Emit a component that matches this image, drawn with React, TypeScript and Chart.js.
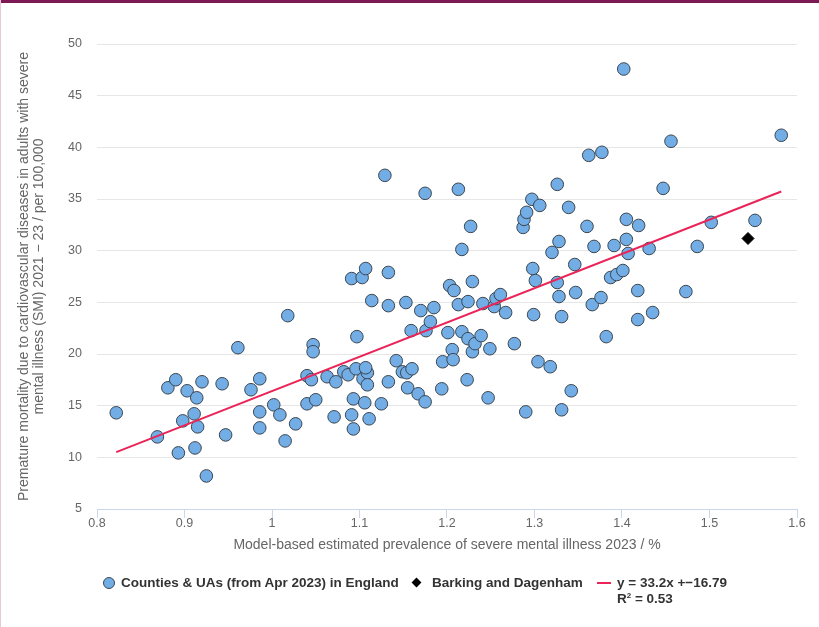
import React, { useEffect, useRef } from "react";
import { Chart, registerables } from "chart.js";

Chart.register(...registerables);

// Counties & UAs (from Apr 2023) in England
const countyX = [
  0.822, 0.869, 0.881, 0.890, 0.893, 0.898, 0.903, 0.911, 0.914, 0.912,
  0.915, 0.920, 0.925, 0.943, 0.947, 0.961, 0.976, 0.986, 0.986, 0.986,
  1.002, 1.009, 1.015, 1.018, 1.027, 1.040, 1.045, 1.040, 1.050, 1.047,
  1.047, 1.063, 1.073, 1.071, 1.082, 1.087, 1.091, 1.093, 1.091, 1.093,
  1.096, 1.097, 1.103, 1.104, 1.107, 1.106, 1.109, 1.107, 1.109, 1.111,
  1.114, 1.125, 1.129, 1.133, 1.133, 1.133, 1.142, 1.149, 1.153, 1.155,
  1.154, 1.160, 1.159, 1.167, 1.170, 1.175, 1.175, 1.176, 1.181, 1.185,
  1.194, 1.195, 1.201, 1.203, 1.206, 1.207, 1.208, 1.213, 1.213, 1.217,
  1.217, 1.223, 1.224, 1.224, 1.227, 1.229, 1.229, 1.232, 1.239, 1.241,
  1.247, 1.249, 1.254, 1.256, 1.261, 1.267, 1.277, 1.287, 1.288, 1.291,
  1.290, 1.297, 1.298, 1.299, 1.301, 1.306, 1.304, 1.318, 1.320, 1.326,
  1.326, 1.328, 1.328, 1.331, 1.331, 1.339, 1.342, 1.346, 1.347, 1.360,
  1.362, 1.366, 1.368, 1.376, 1.377, 1.382, 1.387, 1.391, 1.394, 1.402,
  1.401, 1.405, 1.405, 1.407, 1.418, 1.419, 1.418, 1.431, 1.435, 1.447,
  1.456, 1.473, 1.486, 1.502, 1.552, 1.582,
];
const countyY = [
  14.31, 11.98, 16.73, 17.51, 10.43, 13.53, 16.44, 14.21, 15.76, 10.91,
  12.95, 17.31, 8.20, 17.12, 12.17, 20.61, 16.54, 17.60, 14.40, 12.85,
  15.08, 14.11, 11.59, 23.71, 13.24, 17.90, 17.51, 15.18, 15.57, 20.90,
  20.22, 17.80, 17.31, 13.92, 18.28, 17.99, 14.11, 12.75, 27.30, 15.66,
  18.57, 21.68, 27.40, 17.60, 28.27, 15.28, 18.19, 18.67, 17.02, 13.73,
  25.17, 15.18, 37.29, 27.89, 24.68, 17.31, 19.35, 18.28, 24.98, 16.73,
  18.19, 18.57, 22.26, 16.15, 24.20, 35.55, 15.37, 22.26, 23.13, 24.49,
  16.63, 19.25, 22.07, 26.62, 20.42, 19.45, 26.14, 35.94, 24.78, 30.12,
  22.16, 17.51, 25.07, 21.48, 32.35, 27.01, 20.22, 21.00, 21.78, 24.88,
  15.76, 20.51, 24.59, 25.36, 25.75, 24.01, 21.00, 32.25, 33.03, 33.71,
  14.40, 34.97, 28.27, 23.81, 27.11, 34.38, 19.25, 18.77, 29.83, 36.42,
  26.92, 30.89, 25.56, 23.62, 14.60, 34.19, 16.44, 28.66, 25.95, 32.35,
  39.23, 24.78, 30.41, 25.46, 39.52, 21.68, 27.40, 30.50, 27.69, 47.58,
  28.08, 33.03, 31.09, 29.73, 26.14, 32.44, 23.33, 30.21, 24.01, 36.03,
  40.59, 26.04, 30.41, 32.74, 32.93, 41.17,
];

// Barking and Dagenham
const barkingX = [1.544];
const barkingY = [31.18];

// Trend line y = 33.2x + -16.79 (end points)
const trendX = [0.822, 1.582];
const trendY = [10.5, 35.73];

const xTickValues = [0.8, 0.9, 1, 1.1, 1.2, 1.3, 1.4, 1.5, 1.6];
const yTickValues = [5, 10, 15, 20, 25, 30, 35, 40, 45, 50];

const seriesNames = [
  "Counties & UAs (from Apr 2023) in England",
  "Barking and Dagenham",
  "y = 33.2x +\u221216.79",
];
const r2Label = "0.53";

const xTitle = "Model-based estimated prevalence of severe mental illness 2023 / %";
const yTitle = [
  "Premature mortality due to cardiovascular diseases in adults with severe",
  "mental illness (SMI) 2021 \u2212 23 / per 100,000",
];

const FONT = '"Liberation Sans", Arial, sans-serif';

export default function App() {
  const canvasRef = useRef<HTMLCanvasElement | null>(null);

  useEffect(() => {
    if (!canvasRef.current) return;
    const countyPts = countyX.map((x, i) => ({ x, y: countyY[i] }));
    const barkingPts = barkingX.map((x, i) => ({ x, y: barkingY[i] }));
    const trendPts = trendX.map((x, i) => ({ x, y: trendY[i] }));

    const chart = new Chart(canvasRef.current, {
      type: "scatter",
      data: {
        datasets: [
          {
            type: "line",
            label: seriesNames[2],
            data: trendPts,
            borderColor: "#ea2458",
            borderWidth: 2,
            pointRadius: 0,
            fill: false,
            order: 1,
          },
          {
            label: seriesNames[1],
            data: barkingPts,
            pointStyle: "rectRot",
            pointRadius: 6,
            backgroundColor: "#000000",
            borderColor: "#000000",
            borderWidth: 1,
            order: 0,
          },
          {
            label: seriesNames[0],
            data: countyPts,
            pointStyle: "circle",
            pointRadius: 6.3,
            backgroundColor: "#72ade6",
            borderColor: "#3b4650",
            borderWidth: 1,
            order: 2,
          },
        ],
      },
      options: {
        animation: false,
        responsive: false,
        layout: { padding: { left: 0, right: 22, top: 44, bottom: 68 } },
        plugins: {
          legend: { display: false },
          tooltip: { enabled: false },
        },
        scales: {
          x: {
            type: "linear",
            min: 0.8,
            max: 1.6,
            afterFit: (s: any) => {
              s.height = 50;
            },
            afterBuildTicks: (s: any) => {
              s.ticks = xTickValues.map((v) => ({ value: v }));
            },
            ticks: {
              color: "#666666",
              font: { family: FONT, size: 12.5 },
              padding: -2,
              maxRotation: 0,
              callback: (v: any) => String(Math.round(Number(v) * 10) / 10),
            },
            grid: {
              drawOnChartArea: false,
              drawTicks: true,
              tickLength: 9,
              color: "#ccd6eb",
              lineWidth: 1,
            },
            border: { display: true, color: "#ccd6eb", width: 1 },
            title: {
              display: true,
              text: xTitle,
              color: "#666666",
              font: { family: FONT, size: 14, lineHeight: 1.15 },
              padding: { top: 0, bottom: 6 },
            },
          },
          y: {
            type: "linear",
            min: 5,
            max: 50,
            afterFit: (s: any) => {
              s.width = 97;
            },
            afterBuildTicks: (s: any) => {
              s.ticks = yTickValues.map((v) => ({ value: v }));
            },
            ticks: {
              color: "#666666",
              font: { family: FONT, size: 12.5 },
              padding: 15,
            },
            grid: {
              color: (ctx: any) => (ctx.tick && ctx.tick.value === 5 ? "rgba(0,0,0,0)" : "#e6e6e6"),
              drawTicks: false,
              lineWidth: 1,
            },
            border: { display: false },
            title: {
              display: true,
              text: yTitle,
              color: "#666666",
              font: { family: FONT, size: 14, lineHeight: 1.1 },
              padding: { top: 16, bottom: 0 },
            },
          },
        },
      },
    } as any);

    return () => chart.destroy();
  }, []);

  const legendText: React.CSSProperties = {
    position: "absolute",
    top: 575,
    fontFamily: FONT,
    fontWeight: "bold",
    fontSize: 13.5,
    lineHeight: "16px",
    color: "#333333",
    whiteSpace: "nowrap",
  };

  return (
    <div
      style={{
        position: "fixed",
        left: 0,
        top: 0,
        width: 819,
        height: 627,
        background: "#ffffff",
        overflow: "hidden",
      }}
    >
      <canvas ref={canvasRef} width={819} height={627} style={{ position: "absolute", left: 0, top: 0 }} />
      <div style={{ position: "absolute", left: 0, top: 0, width: 819, height: 3, background: "#7d1a56" }} />
      <div style={{ position: "absolute", left: 0, top: 0, width: 1, height: 627, background: "#e9c9d9" }} />
      {/* legend */}
      <div
        style={{
          position: "absolute",
          left: 103,
          top: 577,
          width: 10,
          height: 10,
          borderRadius: "50%",
          background: "#72ade6",
          border: "1px solid #3b4650",
        }}
      />
      <div style={{ ...legendText, left: 121 }}>{seriesNames[0]}</div>
      <div
        style={{
          position: "absolute",
          left: 413,
          top: 579,
          width: 7,
          height: 7,
          background: "#000000",
          transform: "rotate(45deg)",
        }}
      />
      <div style={{ ...legendText, left: 432 }}>{seriesNames[1]}</div>
      <div style={{ position: "absolute", left: 597, top: 582, width: 14, height: 2, background: "#ea2458" }} />
      <div style={{ ...legendText, left: 617 }}>{seriesNames[2]}</div>
      <div style={{ ...legendText, left: 617, top: 591 }}>
        R<sup style={{ fontSize: 8, lineHeight: 0 }}>2</sup> = {r2Label}
      </div>
    </div>
  );
}
